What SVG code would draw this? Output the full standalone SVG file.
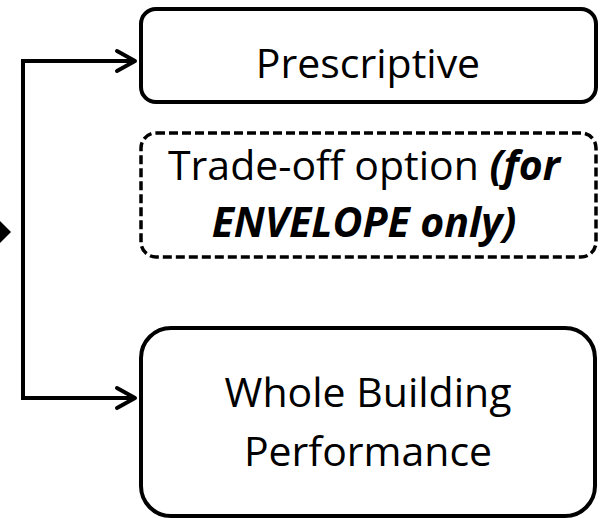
<svg xmlns="http://www.w3.org/2000/svg" width="600" height="518" viewBox="0 0 600 518">
<style>
.box{fill:#fff;stroke:#000;stroke-width:4}
.dash{fill:#fff;stroke:#000;stroke-width:3.5;stroke-dasharray:9 4}
.t{font-family:"Open Sans","Liberation Sans",sans-serif;font-size:41px;fill:#000;text-anchor:middle}
.bi{font-weight:bold;font-style:italic}
.ln{fill:none;stroke:#000;stroke-width:4;stroke-linejoin:miter}
.ah{fill:none;stroke:#000;stroke-width:4;stroke-linecap:round;stroke-linejoin:round}
</style>
<rect width="600" height="518" fill="#fff"/>
<g id="connectors">
<polyline class="ln" points="135,61 23,61 23,398 135,398"/>
<polyline class="ah" points="117,51 135,61 117,71"/>
<polyline class="ah" points="117,388 135,398 117,408"/>
<polygon points="-11,232 0,221 11,232 0,243" fill="#000"/>
</g>
<g id="prescriptive">
<rect class="box" x="141" y="9" width="455" height="93" rx="15"/>
<text class="t" x="368" y="78">Prescriptive</text>
</g>
<g id="tradeoff">
<rect class="dash" x="141" y="133" width="455" height="124" rx="15"/>
<text class="t" x="364" y="180">Trade-off option <tspan class="bi">(for</tspan></text>
<text class="t bi" x="364" y="237">ENVELOPE only)</text>
</g>
<g id="whole-building">
<rect class="box" x="141" y="328" width="454" height="188" rx="30"/>
<text class="t" x="368" y="407">Whole Building</text>
<text class="t" x="368" y="466">Performance</text>
</g>
</svg>
